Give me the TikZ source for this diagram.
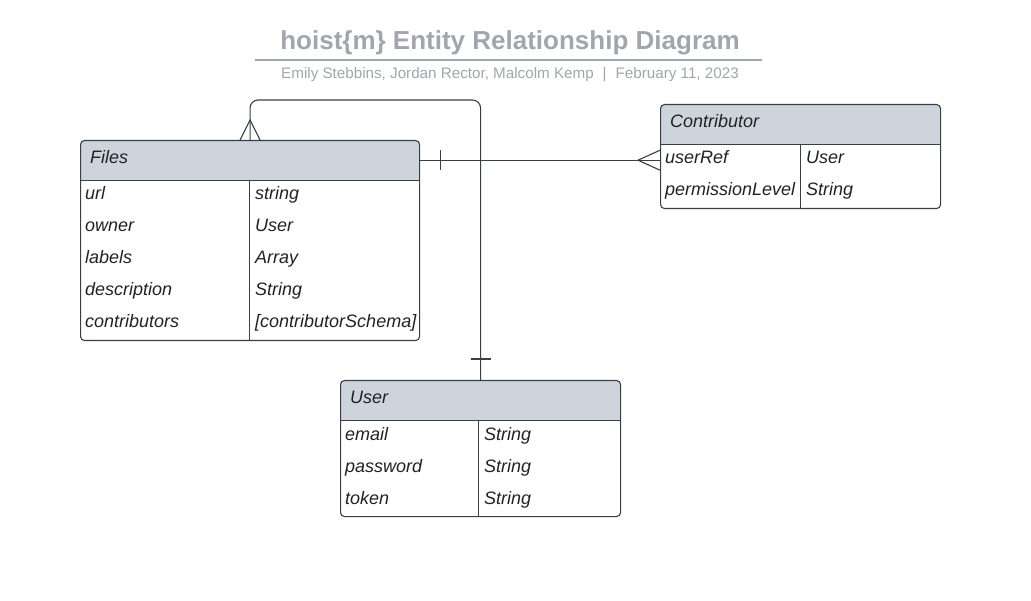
\documentclass[tikz,border=0pt]{standalone}
\usepackage{fontspec}
\setmainfont{Liberation Sans}
\definecolor{hdrgray}{HTML}{CED4DC}
\definecolor{linec}{HTML}{3A3F46}
\definecolor{titlec}{HTML}{A1A6AE}
\definecolor{txtc}{HTML}{222222}
\tikzset{
  ent/.style={draw=linec, line width=1.1pt, rounded corners=4pt, anchor=north west, inner sep=0pt},
  hdr/.style={fill=hdrgray, rounded corners=4pt, anchor=north west, minimum height=40pt,
    inner xsep=10pt, inner ysep=0pt, text height=13pt, text depth=7pt, align=left, text=txtc,
    font=\itshape\fontsize{18}{21}\selectfont},
  fld/.style={anchor=base west, inner sep=0pt, text=txtc, font=\itshape\fontsize{18}{21}\selectfont},
  ln/.style={draw=linec, line width=1pt},
  conn/.style={draw=linec, line width=1.1pt}
}
\begin{document}
\begin{tikzpicture}[x=1pt, y=-1pt]
\useasboundingbox (0,0) rectangle (1031,601);
% title
\node[font=\bfseries\fontsize{26}{30}\selectfont, text=titlec] (title) at (510,43) {hoist\{m\} Entity Relationship Diagram};
\draw[titlec, line width=2pt] (255,60) -- (762,60);
\node[font=\fontsize{15.2}{18}\selectfont, text=titlec] (sub) at (510,75) {Emily Stebbins, Jordan Rector, Malcolm Kemp\hspace{9pt}|\hspace{9pt}February 11, 2023};

% Files
\fill[hdrgray] (80,160) rectangle (419,180);
\node[hdr, text width=319pt] (fileshd) at (80,140) {Files};
\node[ent, minimum width=339pt, minimum height=200pt] (files) at (80,140) {};
\draw[ln] (fileshd.south west) -- (fileshd.south east);
\draw[ln] (249,180) -- (249,340);
\node[fld] (f1) at (85,200) {url};
\node[fld] (f1t) at (255,200) {string};
\node[fld] (f2) at (85,232) {owner};
\node[fld] (f2t) at (255,232) {User};
\node[fld] (f3) at (85,264) {labels};
\node[fld] (f3t) at (255,264) {Array};
\node[fld] (f4) at (85,296) {description};
\node[fld] (f4t) at (255,296) {String};
\node[fld] (f5) at (85,328) {contributors};
\node[fld] (f5t) at (255,328) {[contributorSchema]};

% Contributor
\fill[hdrgray] (660,124) rectangle (940,144);
\node[hdr, text width=260pt] (contribhd) at (660,104) {Contributor};
\node[ent, minimum width=280pt, minimum height=104pt] (contrib) at (660,104) {};
\draw[ln] (contribhd.south west) -- (contribhd.south east);
\draw[ln] (800,144) -- (800,208);
\node[fld] (c1) at (665,164) {userRef};
\node[fld] (c1t) at (806,164) {User};
\node[fld] (c2) at (665,196) {permissionLevel};
\node[fld] (c2t) at (806,196) {String};

% User
\fill[hdrgray] (340,400) rectangle (620,420);
\node[hdr, text width=260pt] (userhd) at (340,380) {User};
\node[ent, minimum width=280pt, minimum height=136pt] (user) at (340,380) {};
\draw[ln] (userhd.south west) -- (userhd.south east);
\draw[ln] (478,420) -- (478,516);
\node[fld] (u1) at (345,440) {email};
\node[fld] (u1t) at (484,440) {String};
\node[fld] (u2) at (345,472) {password};
\node[fld] (u2t) at (484,472) {String};
\node[fld] (u3) at (345,504) {token};
\node[fld] (u3t) at (484,504) {String};

% relations
\coordinate (top) at (0,100);
\coordinate (cr) at (contrib.west |- fileshd.east);
\draw[conn, rounded corners=8pt] (user.north) -- (user.north |- top) -| (files.north);
\draw[conn] (fileshd.east) -- (cr);
\draw[conn] ([xshift=-10pt]files.north) -- ([yshift=20pt]files.north) -- ([xshift=10pt]files.north);
\draw[conn] ([yshift=10pt]cr) -- ([xshift=-22pt]cr) -- ([yshift=-10pt]cr);
\draw[conn] ([xshift=21pt,yshift=10pt]fileshd.east) -- ([xshift=21pt,yshift=-10pt]fileshd.east);
\draw[conn] ([xshift=-10pt,yshift=21pt]user.north) -- ([xshift=10pt,yshift=21pt]user.north);
\end{tikzpicture}
\end{document}
